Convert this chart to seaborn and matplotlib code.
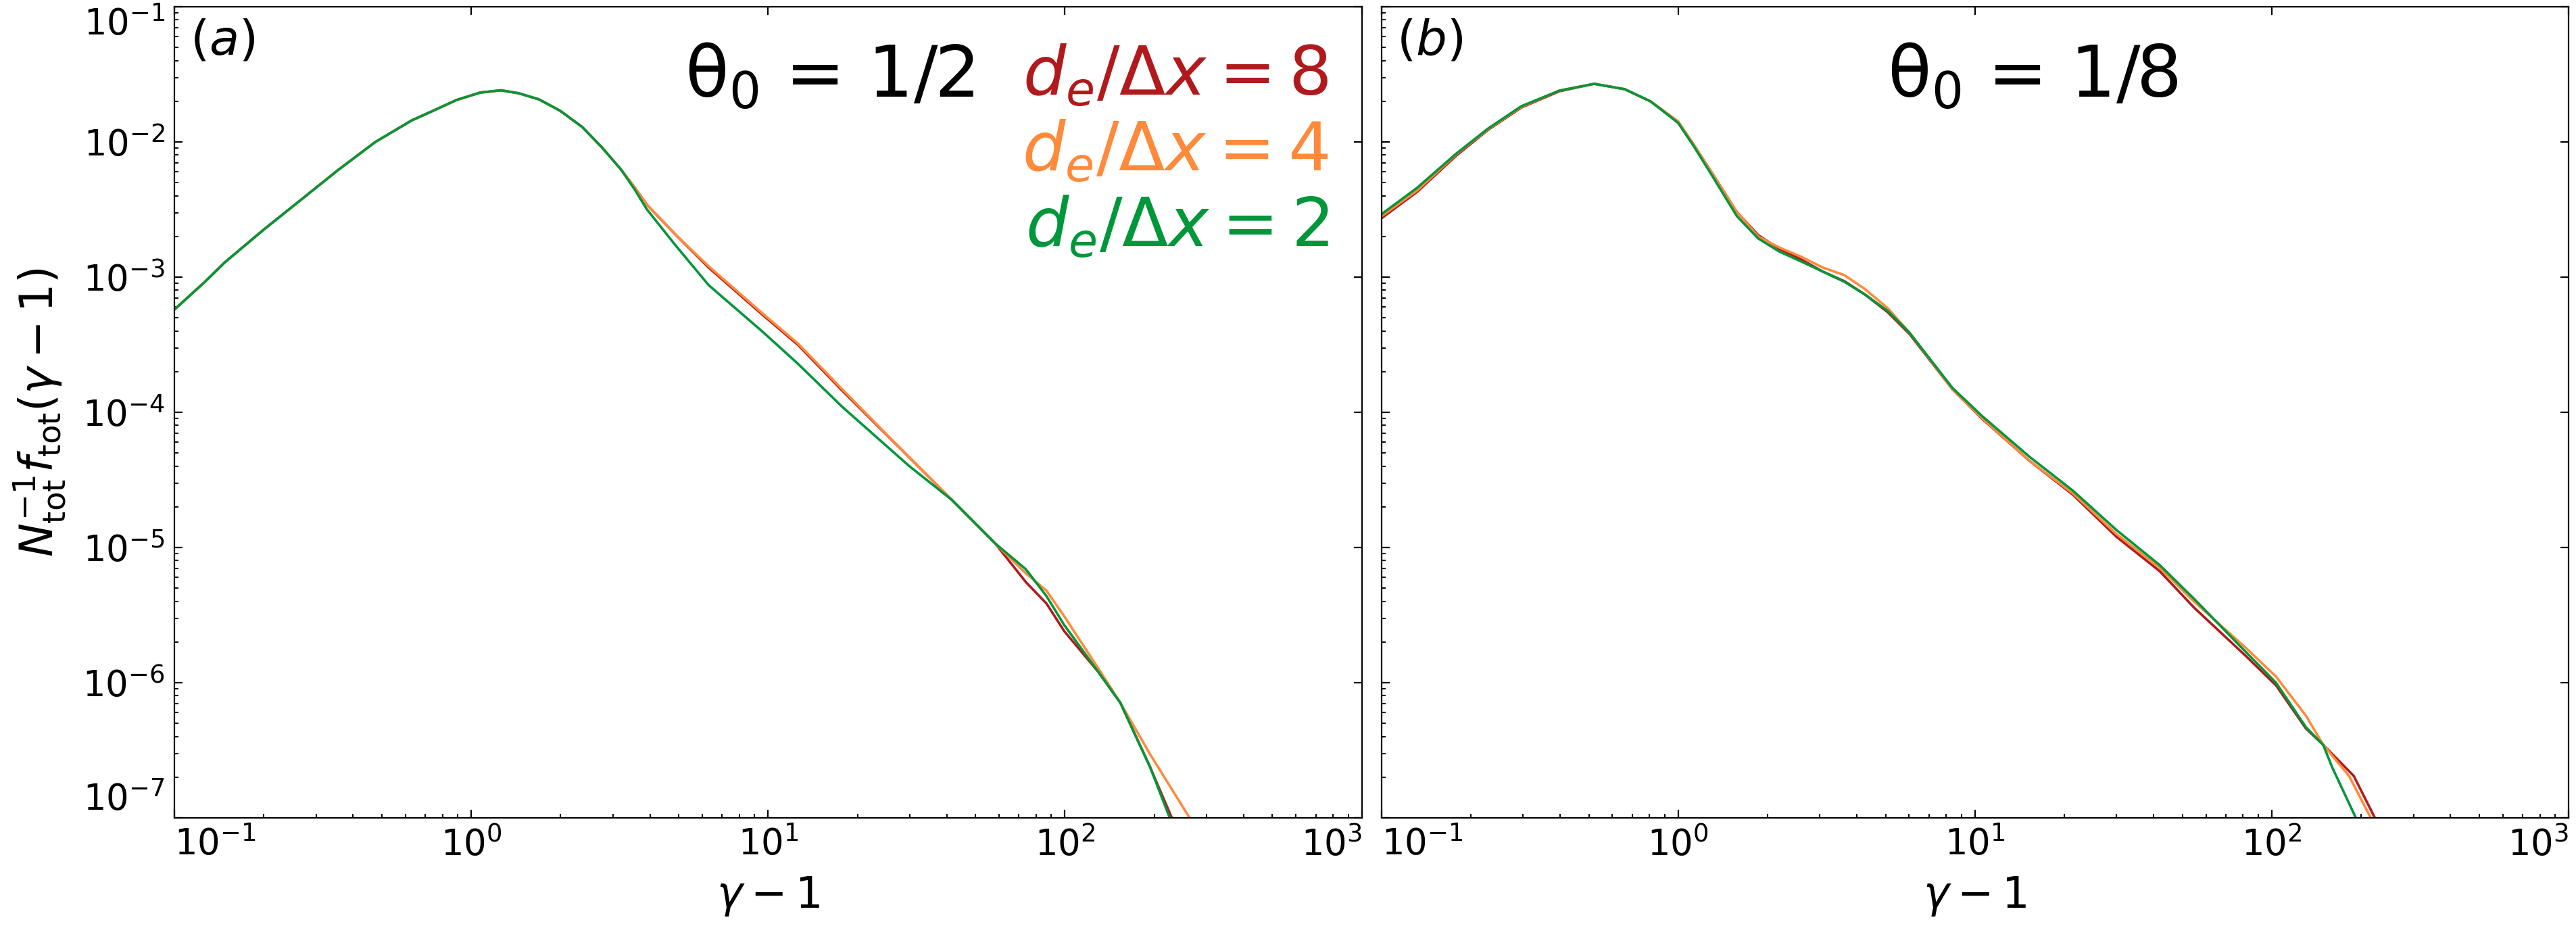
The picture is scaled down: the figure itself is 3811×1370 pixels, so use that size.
import numpy as np
import pandas as pd
import seaborn as sns
import matplotlib.pyplot as plt
from matplotlib.ticker import FixedLocator, LogLocator, NullFormatter

# values, stored as log10
# panel (a): theta0 = 1/2
a_red_lx = [-1.0, -0.9, -0.83, -0.7, -0.572, -0.45, -0.323, -0.2, -0.134, -0.05, 0.03, 0.1, 0.16, 0.228, 0.3,
            0.374, 0.44, 0.503, 0.55, 0.592, 0.69, 0.8, 0.982, 1.1, 1.25, 1.474, 1.62, 1.765, 1.868, 1.938,
            1.998, 2.114, 2.187, 2.287, 2.36]
a_red_ly = [-3.24, -3.04, -2.89, -2.65, -2.425, -2.21, -2.0, -1.84, -1.775, -1.69, -1.635, -1.618, -1.64, -1.685, -1.77,
            -1.89, -2.04, -2.2, -2.335, -2.465, -2.69, -2.93, -3.28, -3.5, -3.84, -4.33, -4.65, -4.97, -5.255, -5.415,
            -5.62, -5.925, -6.15, -6.625, -7.0]
a_org_lx = [-1.0, -0.9, -0.83, -0.7, -0.572, -0.45, -0.323, -0.2, -0.134, -0.05, 0.03, 0.1, 0.16, 0.228, 0.3,
            0.374, 0.44, 0.503, 0.55, 0.592, 0.69, 0.8, 0.982, 1.1, 1.25, 1.474, 1.62, 1.765, 1.868, 1.938,
            1.998, 2.114, 2.187, 2.287, 2.42]
a_org_ly = [-3.24, -3.04, -2.89, -2.65, -2.425, -2.21, -2.0, -1.84, -1.775, -1.69, -1.635, -1.618, -1.64, -1.685, -1.77,
            -1.89, -2.04, -2.2, -2.335, -2.465, -2.69, -2.92, -3.27, -3.49, -3.83, -4.33, -4.65, -4.97, -5.19, -5.32,
            -5.51, -5.9, -6.15, -6.53, -7.0]
a_grn_lx = [-1.0, -0.9, -0.83, -0.7, -0.572, -0.45, -0.323, -0.2, -0.134, -0.05, 0.03, 0.1, 0.16, 0.228, 0.3,
            0.374, 0.44, 0.503, 0.55, 0.592, 0.69, 0.8, 0.982, 1.1, 1.25, 1.474, 1.62, 1.765, 1.868, 1.938,
            1.998, 2.114, 2.187, 2.287, 2.353]
a_grn_ly = [-3.24, -3.04, -2.89, -2.65, -2.425, -2.21, -2.0, -1.84, -1.775, -1.69, -1.635, -1.618, -1.64, -1.685, -1.77,
            -1.89, -2.04, -2.2, -2.35, -2.5, -2.77, -3.06, -3.405, -3.64, -3.96, -4.395, -4.65, -4.97, -5.16, -5.36,
            -5.575, -5.925, -6.15, -6.625, -7.0]

# panel (b): theta0 = 1/8
b_lx = [-1.0, -0.88, -0.747, -0.64, -0.528, -0.4, -0.283, -0.18, -0.093, 0.0, 0.052, 0.12, 0.198, 0.27, 0.34,
        0.415, 0.488, 0.56, 0.63, 0.706, 0.779, 0.924, 1.025, 1.184, 1.33, 1.476, 1.622, 1.738, 1.911, 2.014,
        2.115, 2.173]
b_red_ly = [-2.565, -2.37, -2.1, -1.91, -1.745, -1.625, -1.57, -1.61, -1.7, -1.85, -2.02, -2.25, -2.52, -2.69, -2.79,
            -2.87, -2.96, -3.03, -3.13, -3.26, -3.42, -3.83, -4.05, -4.36, -4.61, -4.92, -5.175, -5.445, -5.8, -6.02,
            -6.34, -6.46]
b_org_ly = [-2.55, -2.36, -2.09, -1.905, -1.74, -1.62, -1.57, -1.61, -1.7, -1.85, -2.02, -2.25, -2.52, -2.7, -2.78,
            -2.85, -2.93, -2.985, -3.09, -3.23, -3.41, -3.83, -4.045, -4.36, -4.6, -4.9, -5.15, -5.4, -5.74, -5.955,
            -6.245, -6.46]
b_grn_ly = [-2.535, -2.34, -2.085, -1.9, -1.735, -1.62, -1.57, -1.61, -1.7, -1.86, -2.03, -2.27, -2.55, -2.715, -2.81,
            -2.885, -2.96, -3.035, -3.13, -3.25, -3.41, -3.82, -4.03, -4.33, -4.58, -4.87, -5.13, -5.38, -5.77, -6.0,
            -6.33, -6.46]
b_red_tail_lx = [2.276, 2.347]
b_red_tail_ly = [-6.69, -7.0]
b_org_tail_lx = [2.26, 2.333]
b_org_tail_ly = [-6.69, -7.0]
b_grn_tail_lx = [2.203, 2.283]
b_grn_tail_ly = [-6.625, -7.0]

runs = ["8", "4", "2"]
colors = {"8": "#b11a1d", "4": "#ff8a3b", "2": "#00963a"}
panel_labels = [r"$(a)$", r"$(b)$"]
theta_labels = [r"θ$_0$ = 1/2", r"θ$_0$ = 1/8"]


def frame(series):
    parts = []
    for run, lx, ly in series:
        parts.append(pd.DataFrame({"x": 10 ** np.array(lx), "y": 10 ** np.array(ly), "run": run}))
    return pd.concat(parts, ignore_index=True)


df_a = frame([("8", a_red_lx, a_red_ly), ("4", a_org_lx, a_org_ly), ("2", a_grn_lx, a_grn_ly)])
df_b = frame([("8", b_lx + b_red_tail_lx, b_red_ly + b_red_tail_ly),
              ("4", b_lx + b_org_tail_lx, b_org_ly + b_org_tail_ly),
              ("2", b_lx + b_grn_tail_lx, b_grn_ly + b_grn_tail_ly)])

sns.set_style("ticks")
plt.rcParams["font.family"] = ["DejaVu Sans"]
plt.rcParams["mathtext.fontset"] = "dejavusans"
plt.rcParams["xtick.direction"] = "in"
plt.rcParams["ytick.direction"] = "in"
plt.rcParams["text.color"] = "black"
plt.rcParams["axes.labelcolor"] = "black"
plt.rcParams["xtick.color"] = "black"
plt.rcParams["ytick.color"] = "black"
plt.rcParams["axes.edgecolor"] = "black"

fig, axes = plt.subplots(1, 2, figsize=(19.06, 6.85), dpi=200, sharey=True)
fig.subplots_adjust(left=0.0677, right=0.9969, bottom=0.1168, top=0.9927, wspace=0.0165)

for i, (ax, df) in enumerate(zip(axes, [df_a, df_b])):
    sns.lineplot(data=df, x="x", y="y", hue="run", hue_order=runs, palette=colors,
                 sort=False, estimator=None, legend=False, lw=1.3, ax=ax)
    ax.set_xscale("log")
    ax.set_yscale("log")
    ax.set_xlim(0.1, 1000)
    ax.set_ylim(1e-7, 1e-1)
    ax.xaxis.set_major_locator(FixedLocator([0.1, 1, 10, 100, 1000]))
    ax.yaxis.set_major_locator(FixedLocator([1e-7, 1e-6, 1e-5, 1e-4, 1e-3, 1e-2, 1e-1]))
    ax.xaxis.set_minor_locator(LogLocator(base=10, subs=np.arange(2, 10), numticks=20))
    ax.yaxis.set_minor_locator(LogLocator(base=10, subs=np.arange(2, 10), numticks=20))
    ax.xaxis.set_minor_formatter(NullFormatter())
    ax.yaxis.set_minor_formatter(NullFormatter())
    ax.tick_params(which="major", top=True, right=True, length=4.2, width=0.8, labelsize=19, pad=5,
                   colors="black")
    ax.tick_params(which="minor", top=False, right=False, length=2.2, width=0.7, colors="black")
    for sp in ax.spines.values():
        sp.set_linewidth(0.8)
        sp.set_color("black")
    ax.set_xlabel(r"$\gamma - 1$", fontsize=23, labelpad=6, color="black")
    ax.text(0.013, 0.986, panel_labels[i], transform=ax.transAxes, fontsize=26, ha="left", va="top",
            color="black")
    ax.text(0.43 if i == 0 else 0.426, 0.957, theta_labels[i], transform=ax.transAxes,
            fontsize=38, ha="left", va="top", color="black")

axes[0].set_ylabel(r"$N_{\rm tot}^{-1} f_{\rm tot}(\gamma - 1)$", fontsize=24, labelpad=8, color="black")
axes[1].tick_params(labelleft=False)

# resolution labels in panel (a)
for k, run in enumerate(runs):
    axes[0].text(0.972, 0.955 - k * 0.0933, r"$d_e/\Delta x = %s$" % run, color=colors[run],
                 transform=axes[0].transAxes, fontsize=36, ha="right", va="top")

# keep the end tick labels inside the frame
for ax in axes:
    xt = ax.xaxis.get_major_ticks()
    xt[0].label1.set_horizontalalignment("left")
    xt[-1].label1.set_horizontalalignment("right")
    yt = ax.yaxis.get_major_ticks()
    yt[0].label1.set_verticalalignment("bottom")
    yt[-1].label1.set_verticalalignment("top")

fig.savefig("out.png", dpi=200)
